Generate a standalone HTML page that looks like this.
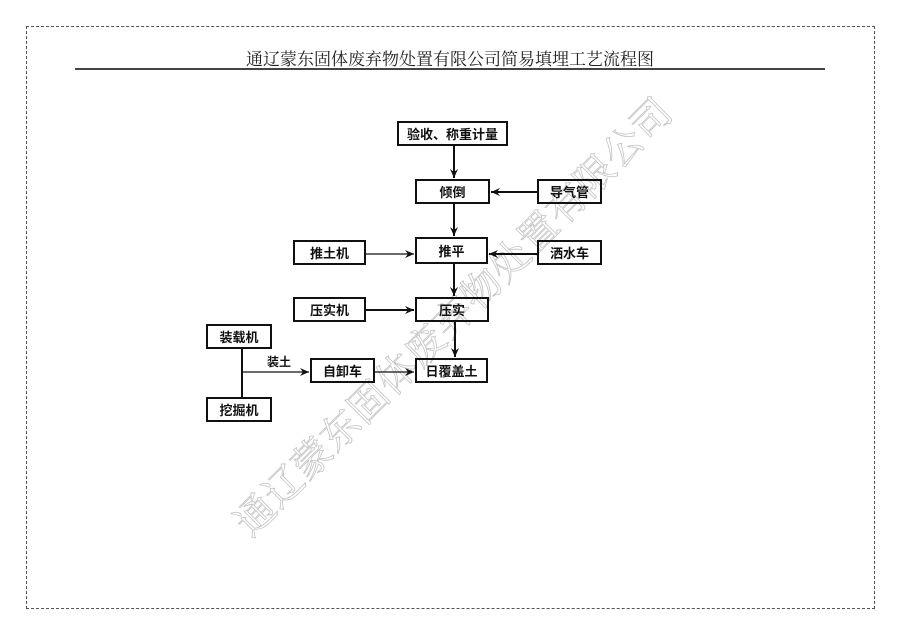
<!DOCTYPE html>
<html><head><meta charset="utf-8"><style>
body{margin:0;width:900px;height:636px;background:#fff;position:relative;overflow:hidden;font-family:"Liberation Serif","Noto Serif CJK SC",serif}
.frame{position:absolute;left:26px;top:26px;width:849px;height:583px;border:1px dashed #555;box-sizing:border-box}
.title{position:absolute;left:75px;width:750px;top:45px;text-align:center;font-size:17px;color:#222}
.rule{position:absolute;left:75px;top:68px;width:750px;height:2px;background:#444}
.b{position:absolute;border:2px solid #111;box-sizing:border-box;display:flex;align-items:center;justify-content:center;font-family:"Liberation Sans","Noto Sans CJK SC",sans-serif;font-weight:bold;font-size:13px;color:#111;background:transparent}
.wm{position:absolute;left:452px;top:315px;transform:translate(-50%,-50%) rotate(-45deg);white-space:nowrap;font-family:"Noto Serif CJK SC",serif;font-size:39px;color:rgba(255,255,255,0);-webkit-text-stroke:0.8px #c4c4c4;letter-spacing:1px}
svg{position:absolute;left:0;top:0}
</style></head><body>
<div class="frame"></div>
<div class="title">通辽蒙东固体废弃物处置有限公司简易填埋工艺流程图</div>
<div class="rule"></div>
<div class="wm">通辽蒙东固体废弃物处置有限公司</div>
<svg width="900" height="636">
<defs><marker id="a" markerWidth="10" markerHeight="8" refX="9" refY="4" orient="auto" markerUnits="userSpaceOnUse"><path d="M0,0 L9,4 L0,8 L3,4 Z" fill="#111"/></marker></defs>
<g stroke="#111" stroke-width="2" fill="none">
<line x1="454" y1="145" x2="454" y2="178" marker-end="url(#a)"/>
<line x1="454" y1="204" x2="454" y2="236" marker-end="url(#a)"/>
<line x1="454" y1="264" x2="454" y2="296" marker-end="url(#a)"/>
<line x1="455" y1="322" x2="455" y2="357" marker-end="url(#a)"/>
<line x1="537" y1="192" x2="491" y2="192" marker-end="url(#a)"/>
<line x1="537" y1="254" x2="489" y2="254" marker-end="url(#a)"/>
<line x1="366" y1="254" x2="414" y2="254" stroke-width="1.3" marker-end="url(#a)"/>
<line x1="366" y1="310" x2="414" y2="310" marker-end="url(#a)"/>
<line x1="375" y1="372" x2="414" y2="372" stroke-width="1.3" marker-end="url(#a)"/>
<line x1="242" y1="348" x2="242" y2="397"/>
<line x1="242" y1="372" x2="309" y2="372" stroke-width="1.3" marker-end="url(#a)"/>
</g>
<text x="279" y="366" font-family="Liberation Sans,Noto Sans CJK SC,sans-serif" font-weight="bold" font-size="12" text-anchor="middle" fill="#111">装土</text>
</svg>
<div class="b" style="left:397px;top:121px;width:111px;height:25px">验收、称重计量</div>
<div class="b" style="left:415px;top:179px;width:75px;height:25px">倾倒</div>
<div class="b" style="left:537px;top:179px;width:65px;height:25px">导气管</div>
<div class="b" style="left:415px;top:237px;width:73px;height:27px">推平</div>
<div class="b" style="left:293px;top:240px;width:73px;height:25px">推土机</div>
<div class="b" style="left:537px;top:240px;width:65px;height:25px">洒水车</div>
<div class="b" style="left:293px;top:297px;width:73px;height:25px">压实机</div>
<div class="b" style="left:415px;top:297px;width:74px;height:25px">压实</div>
<div class="b" style="left:206px;top:324px;width:66px;height:25px">装载机</div>
<div class="b" style="left:310px;top:358px;width:65px;height:25px">自卸车</div>
<div class="b" style="left:415px;top:358px;width:73px;height:25px">日覆盖土</div>
<div class="b" style="left:206px;top:397px;width:66px;height:25px">挖掘机</div>
</body></html>
